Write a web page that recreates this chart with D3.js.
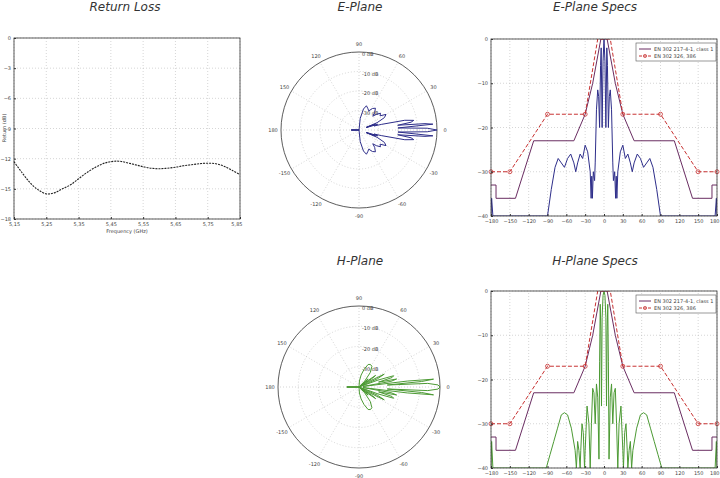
<!DOCTYPE html>
<html>
<head>
<meta charset="UTF-8">
<script src="https://cdn.jsdelivr.net/npm/d3@7"></script>
<style>
  body { margin: 0; background: #fff; }
  text { font-family: "DejaVu Sans", sans-serif; }
  .tick text { font-size: 5px; fill: #444; }
  .domain { stroke: #333; }
  .tick line { stroke: #333; }
</style>
</head>
<body>
<script>
// Return loss (dB) vs frequency (GHz)
var freq = [5.15,5.175,5.2,5.225,5.25,5.275,5.3,5.325,5.35,5.375,5.4,5.425,5.45,5.475,5.5,5.525,5.55,5.575,5.6,5.625,5.65,5.675,5.7,5.725,5.75,5.775,5.8,5.825,5.85];
var retLoss = [-12.3,-13.4,-14.4,-15.1,-15.5,-15.4,-15.0,-14.6,-14.0,-13.4,-12.9,-12.5,-12.3,-12.25,-12.4,-12.6,-12.8,-12.95,-13.0,-12.95,-12.85,-12.7,-12.6,-12.5,-12.45,-12.5,-12.75,-13.15,-13.6];
var freqTicks = [5.15,5.25,5.35,5.45,5.55,5.65,5.75,5.85];
var rlTicks = [0,-3,-6,-9,-12,-15,-18];

// E-plane pattern [angle deg, dB]
var ePlane = [[-180,-40],[-179,-36],[-177,-40],[-90,-40],[-84,-34],[-78,-29],[-73,-27],[-68,-28],[-63,-29],[-58,-27],[-53,-26],[-48,-28],[-45,-30],[-42,-28],[-38,-26],[-34,-27],[-30,-24],[-26,-25.5],[-22,-30],[-20.5,-36],[-19.5,-31],[-18.5,-36],[-17,-30],[-15,-32],[-14,-28],[-12,-16],[-10,-11.5],[-8.5,-13],[-7,-20],[-5.5,-6],[-4.5,-2],[-3,-20],[-1.5,-5],
  [0,0],[1.5,-5],[3,-20],[4.5,-2],[5.5,-6],[7,-20],[8.5,-13],[10,-11.5],[12,-16],[14,-28],[15,-32],[17,-30],[18.5,-36],[19.5,-31],[20.5,-36],[22,-30],[26,-25.5],[30,-24],[34,-27],[38,-26],[42,-28],[45,-30],[48,-28],[53,-26],[58,-27],[63,-29],[68,-28],[73,-27],[78,-29],[84,-34],[90,-40],[177,-40],[179,-36],[180,-40]];

// H-plane pattern [angle deg, dB]
var hPlane = [[-180,-40],[-179,-34],[-177,-40],[-92,-40],[-86,-37],[-80,-34],[-74,-31],[-68,-28],[-63,-27.5],[-58,-28],[-52,-31],[-46,-36],[-44,-40],[-42,-34],[-40,-36],[-38,-40],[-37,-36],[-35,-30],[-33,-32],[-31,-40],[-30,-36],[-27,-26],[-24,-30],[-22,-40],[-20,-30],[-18,-22],[-16,-23],[-14,-30],[-12,-21],[-10,-24],[-8,-38],[-7,-16],[-6,-3],[-5,-9],[-4,-26],[-3,-6],[-1.5,-1],
  [0,0],[1.5,-1],[3,-6],[4,-26],[5,-9],[6,-3],[7,-16],[8,-38],[10,-24],[12,-21],[14,-30],[16,-23],[18,-22],[20,-30],[22,-40],[24,-30],[27,-26],[30,-36],[31,-40],[33,-32],[35,-30],[37,-36],[38,-40],[40,-36],[42,-34],[44,-40],[46,-36],[52,-31],[58,-28],[63,-27.5],[68,-28],[74,-31],[80,-34],[86,-37],[92,-40],[177,-40],[179,-34],[180,-40]];

// Masks
var maskClass1 = [[-180,-33],[-172,-33],[-172,-36],[-141,-36],[-112,-23],[-48,-23],[-30,-17],[-18,-10],[-5,0],[5,0],[18,-10],[30,-17],[48,-23],[112,-23],[141,-36],[172,-36],[172,-33],[180,-33]];
var maskEtsi = [[-180,-30],[-150,-30],[-90,-17],[-30,-17],[-10,0],[10,0],[30,-17],[90,-17],[150,-30],[180,-30]];
var etsiMarkers = [[-180,-30],[-150,-30],[-90,-17],[-30,-17],[30,-17],[90,-17],[150,-30],[180,-30]];
var angTicks = [-180,-150,-120,-90,-60,-30,0,30,60,90,120,150,180];
var dbTicks = [0,-10,-20,-30,-40];
var legendLabels = ["EN 302 217-4-1, class 1", "EN 302 326, 386"];
var polarAngles = [0,30,60,90,120,150,180,-150,-120,-90,-60,-30];
var ringLabels = ["0 dB","-10 dB","-20 dB","-30 dB"];

var svg = d3.select("body").append("svg").attr("width", 720).attr("height", 478);

function title(x, y, t) {
  svg.append("text").attr("x", x).attr("y", y).attr("text-anchor", "middle")
    .attr("font-size", 12).attr("font-style", "italic").attr("fill", "#333").text(t);
}
title(125, 11, "Return Loss");
title(360, 11, "E-Plane");
title(595, 11, "E-Plane Specs");
title(360, 265, "H-Plane");
title(595, 265, "H-Plane Specs");

function grid(g, x, y, xt, yt) {
  g.selectAll(".gx").data(xt).enter().append("line")
    .attr("x1", x).attr("x2", x).attr("y1", y.range()[0]).attr("y2", y.range()[1])
    .attr("stroke", "#bbb").attr("stroke-dasharray", "1,2").attr("stroke-width", 0.6);
  g.selectAll(".gy").data(yt).enter().append("line")
    .attr("y1", y).attr("y2", y).attr("x1", x.range()[0]).attr("x2", x.range()[1])
    .attr("stroke", "#bbb").attr("stroke-dasharray", "1,2").attr("stroke-width", 0.6);
}
function box(g, x, y) {
  g.append("rect").attr("x", x.range()[0]).attr("y", y.range()[1])
    .attr("width", x.range()[1] - x.range()[0]).attr("height", y.range()[0] - y.range()[1])
    .attr("fill", "none").attr("stroke", "#333").attr("stroke-width", 0.8);
}
function axes(g, x, y, xt, yt, xf) {
  var xa = g.append("g").attr("transform", "translate(0," + y.range()[0] + ")")
    .call(d3.axisBottom(x).tickValues(xt).tickSize(-2).tickPadding(3).tickFormat(xf || d3.format("d")))
    .call(s => s.select(".domain").remove());
  xa.selectAll(".tick text").filter((d, i) => i === xt.length - 1).attr("text-anchor", "end").attr("dx", 2);
  g.append("g").attr("transform", "translate(" + x.range()[0] + ",0)")
    .call(d3.axisLeft(y).tickValues(yt).tickSize(-2).tickPadding(3))
    .call(s => s.select(".domain").remove());
}

// Return loss
(function () {
  var g = svg.append("g");
  var x = d3.scaleLinear().domain([5.15, 5.85]).range([14, 240]);
  var y = d3.scaleLinear().domain([-18, 0]).range([219, 38]);
  grid(g, x, y, freqTicks, rlTicks);
  box(g, x, y);
  axes(g, x, y, freqTicks, rlTicks, d3.format(".2f"));
  g.selectAll(".tick text").text(function () { return this.textContent.replace(".", ","); });
  g.append("path").datum(freq.map((f, i) => [f, retLoss[i]]))
    .attr("d", d3.line().curve(d3.curveCatmullRom).x(d => x(d[0])).y(d => y(d[1])))
    .attr("fill", "none").attr("stroke", "#222").attr("stroke-width", 1.1).attr("stroke-dasharray", "2,1");
  g.append("text").attr("x", 127).attr("y", 233).attr("text-anchor", "middle").attr("font-size", 5).attr("fill", "#444").text("Frequency (GHz)");
  g.append("text").attr("transform", "translate(6,128) rotate(-90)").attr("text-anchor", "middle").attr("font-size", 5).attr("fill", "#444").text("Return (dB)");
})();

// Polar plots
function polar(cx, cy, R, data, color) {
  var g = svg.append("g").attr("transform", "translate(" + cx + "," + cy + ")");
  var r = d3.scaleLinear().domain([-40, 0]).range([0, R]).clamp(true);
  g.selectAll(".ring").data([-30, -20, -10]).enter().append("circle")
    .attr("r", d => r(d)).attr("fill", "none").attr("stroke", "#bbb").attr("stroke-dasharray", "1,2").attr("stroke-width", 0.6);
  g.selectAll(".spoke").data(polarAngles).enter().append("line")
    .attr("x1", 0).attr("y1", 0)
    .attr("x2", d => R * Math.cos(d * Math.PI / 180)).attr("y2", d => -R * Math.sin(d * Math.PI / 180))
    .attr("stroke", "#bbb").attr("stroke-dasharray", "1,2").attr("stroke-width", 0.6);
  g.append("circle").attr("r", R).attr("fill", "none").attr("stroke", "#333").attr("stroke-width", 0.8);
  g.selectAll(".al").data(polarAngles).enter().append("text")
    .attr("x", d => (R + 8) * Math.cos(d * Math.PI / 180)).attr("y", d => -(R + 8) * Math.sin(d * Math.PI / 180) + 2)
    .attr("text-anchor", "middle").attr("font-size", 5).attr("fill", "#444").text(d => d);
  g.selectAll(".rl").data(ringLabels).enter().append("text")
    .attr("x", 3).attr("y", (d, i) => -r(-i * 10) + 4)
    .attr("font-size", 5).attr("fill", "#444").text(d => d);
  g.append("path").datum(data)
    .attr("d", d3.lineRadial().angle(d => (90 - d[0]) * Math.PI / 180).radius(d => r(d[1])))
    .attr("fill", "none").attr("stroke", color).attr("stroke-width", 1);
}
polar(359, 130, 78, ePlane, "#2e2e8a");
polar(359, 387, 81, hPlane, "#4c9a34");

// Spec plots
function spec(top, bottom, data, color) {
  var g = svg.append("g");
  var x = d3.scaleLinear().domain([-180, 180]).range([491, 717]);
  var y = d3.scaleLinear().domain([-40, 0]).range([bottom, top]);
  grid(g, x, y, angTicks, dbTicks);
  var clip = "clip" + top;
  g.append("clipPath").attr("id", clip).append("rect")
    .attr("x", 491).attr("y", top).attr("width", 226).attr("height", bottom - top);
  var line = d3.line().x(d => x(d[0])).y(d => y(d[1]));
  var c = g.append("g").attr("clip-path", "url(#" + clip + ")");
  c.append("path").datum(data).attr("d", line).attr("fill", "none").attr("stroke", color).attr("stroke-width", 1);
  c.append("path").datum(maskClass1).attr("d", line).attr("fill", "none").attr("stroke", "#6a2d62").attr("stroke-width", 1);
  c.append("path").datum(maskEtsi).attr("d", line).attr("fill", "none").attr("stroke", "#c83232").attr("stroke-width", 1).attr("stroke-dasharray", "4,2");
  g.selectAll(".mk").data(etsiMarkers).enter().append("circle")
    .attr("cx", d => x(d[0])).attr("cy", d => y(d[1])).attr("r", 2)
    .attr("fill", "none").attr("stroke", "#c83232").attr("stroke-width", 0.8);
  box(g, x, y);
  axes(g, x, y, angTicks, dbTicks);
  // legend
  var lg = g.append("g").attr("transform", "translate(636," + (top + 4) + ")");
  lg.append("rect").attr("width", 80).attr("height", 18).attr("fill", "#fff").attr("stroke", "#555").attr("stroke-width", 0.6);
  lg.append("line").attr("x1", 3).attr("x2", 15).attr("y1", 6).attr("y2", 6).attr("stroke", "#6a2d62");
  lg.append("line").attr("x1", 3).attr("x2", 15).attr("y1", 13).attr("y2", 13).attr("stroke", "#c83232").attr("stroke-dasharray", "3,1.5");
  lg.append("circle").attr("cx", 9).attr("cy", 13).attr("r", 1.6).attr("fill", "none").attr("stroke", "#c83232").attr("stroke-width", 0.7);
  lg.selectAll(".lt").data(legendLabels).enter().append("text")
    .attr("x", 18).attr("y", (d, i) => 8 + i * 7).attr("font-size", 5).attr("fill", "#444").text(d => d);
}
spec(39, 216, ePlane, "#2e2e8a");
spec(291, 468, hPlane, "#4c9a34");
</script>
</body>
</html>
